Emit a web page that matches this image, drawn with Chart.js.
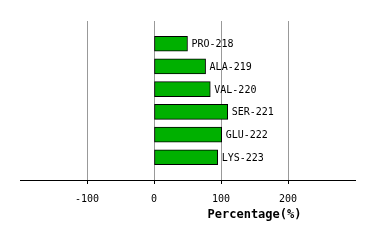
<!DOCTYPE html>
<html>
<head>
<meta charset="utf-8">
<script src="https://cdn.jsdelivr.net/npm/chart.js@4"></script>
<style>
  body { margin: 0; background: #fff; }
  canvas { display: block; }
</style>
</head>
<body>
<canvas id="barChart" width="374" height="240"></canvas>
<script>
// residues and their percentage values
const residues = ['PRO-218', 'ALA-219', 'VAL-220', 'SER-221', 'GLU-222', 'LYS-223'];
const percentages = [50, 77, 84, 110, 101, 95];
const xMin = -200;
const xMax = 300;
const xTitle = 'Percentage(%)';

// blank slots at each end so the bars sit one step in from the frame
const labels = [''].concat(residues, ['']);
const values = [null].concat(percentages, [null]);

// draw the residue name just right of each bar, and the axis title
const labelPlugin = {
    id: 'barLabels',
    afterDatasetsDraw(chart) {
        const ctx = chart.ctx;
        const meta = chart.getDatasetMeta(0);
        ctx.save();
        ctx.fillStyle = '#000';
        ctx.font = '10px "DejaVu Sans Mono", monospace';
        ctx.textBaseline = 'middle';
        ctx.textAlign = 'left';
        meta.data.forEach((bar, i) => {
            if (values[i] === null) return;
            ctx.fillText(labels[i], bar.x + 4, bar.y + 1);
        });
        // axis title
        const xs = chart.scales.x;
        ctx.font = 'bold 12px "DejaVu Sans Mono", monospace';
        ctx.textAlign = 'center';
        ctx.fillText(xTitle, xs.getPixelForValue(150), 215);
        ctx.restore();
    }
};

const myBarChart = new Chart(document.getElementById('barChart'), {
    type: 'bar',
    data: {
        labels: labels,
        datasets: [{
            data: values,
            backgroundColor: '#00b000',
            borderColor: '#000',
            borderWidth: 1,
            borderSkipped: false,
            barThickness: 15
        }]
    },
    options: {
        indexAxis: 'y',
        responsive: false,
        animation: false,
        layout: { padding: { left: 20, right: 19, top: 21, bottom: 0 } },
        plugins: {
            legend: { display: false },
            tooltip: { enabled: false }
        },
        scales: {
            y: {
                display: false,
                offset: false
            },
            x: {
                min: xMin,
                max: xMax,
                afterFit(scale) { scale.height = 60; },
                border: { color: '#000', width: 1 },
                grid: {
                    color: c => (c.tick && (c.tick.value === xMin || c.tick.value === xMax)) ? 'rgba(0,0,0,0)' : '#999',
                    tickColor: c => (c.tick && (c.tick.value === xMin || c.tick.value === xMax)) ? 'rgba(0,0,0,0)' : '#000',
                    tickLength: 4
                },
                ticks: {
                    stepSize: 100,
                    color: '#000',
                    padding: 9,
                    maxRotation: 0,
                    font: { family: '"DejaVu Sans Mono", monospace', size: 10 },
                    callback: v => (v === xMin || v === xMax) ? '' : v
                }
            }
        }
    },
    plugins: [labelPlugin]
});
</script>
</body>
</html>
